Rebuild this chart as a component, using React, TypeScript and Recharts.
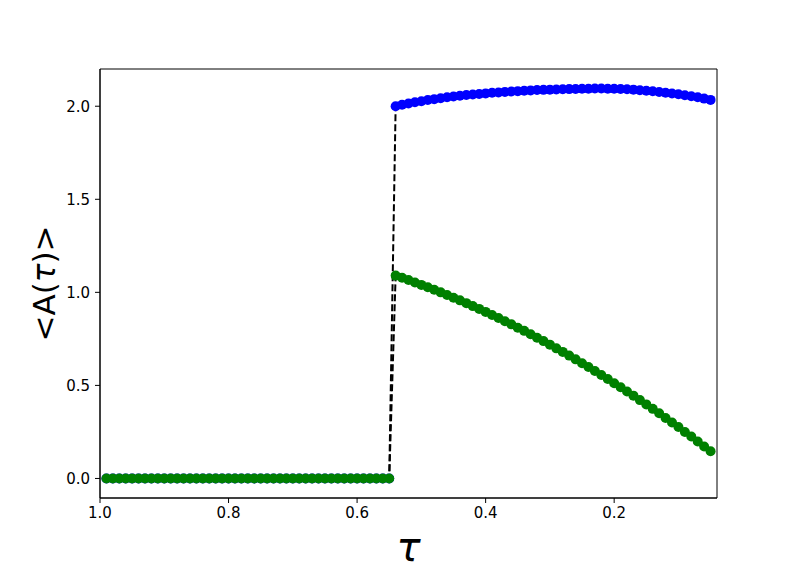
import { ComposedChart, Line, XAxis, YAxis, Label, ReferenceArea } from 'recharts'

// tau grid, plotted right-to-left (decreasing tau)
const tauFlat = [
  0.99, 0.98, 0.97, 0.96, 0.95, 0.94, 0.93, 0.92, 0.91, 0.9,
  0.89, 0.88, 0.87, 0.86, 0.85, 0.84, 0.83, 0.82, 0.81, 0.8,
  0.79, 0.78, 0.77, 0.76, 0.75, 0.74, 0.73, 0.72, 0.71, 0.7,
  0.69, 0.68, 0.67, 0.66, 0.65, 0.64, 0.63, 0.62, 0.61, 0.6,
  0.59, 0.58, 0.57, 0.56, 0.55,
]
const flatValues = [
  0, 0, 0, 0, 0, 0, 0, 0, 0, 0,
  0, 0, 0, 0, 0, 0, 0, 0, 0, 0,
  0, 0, 0, 0, 0, 0, 0, 0, 0, 0,
  0, 0, 0, 0, 0, 0, 0, 0, 0, 0,
  0, 0, 0, 0, 0,
]
const tauBranch = [
  0.54, 0.53, 0.52, 0.51, 0.5, 0.49, 0.48, 0.47, 0.46, 0.45,
  0.44, 0.43, 0.42, 0.41, 0.4, 0.39, 0.38, 0.37, 0.36, 0.35,
  0.34, 0.33, 0.32, 0.31, 0.3, 0.29, 0.28, 0.27, 0.26, 0.25,
  0.24, 0.23, 0.22, 0.21, 0.2, 0.19, 0.18, 0.17, 0.16, 0.15,
  0.14, 0.13, 0.12, 0.11, 0.1, 0.09, 0.08, 0.07, 0.06, 0.05,
]
const upperBranch = [
  2.0, 2.008, 2.015, 2.021, 2.027, 2.033, 2.038, 2.043, 2.048, 2.052,
  2.056, 2.06, 2.063, 2.066, 2.069, 2.072, 2.074, 2.077, 2.079, 2.081,
  2.083, 2.085, 2.087, 2.088, 2.089, 2.09, 2.091, 2.092, 2.093, 2.094,
  2.094, 2.095, 2.095, 2.094, 2.094, 2.093, 2.091, 2.089, 2.086, 2.083,
  2.08, 2.076, 2.072, 2.068, 2.064, 2.059, 2.054, 2.048, 2.041, 2.034,
]
const lowerBranch = [
  1.09, 1.078, 1.066, 1.053, 1.04, 1.027, 1.014, 1.0, 0.986, 0.971,
  0.957, 0.942, 0.926, 0.911, 0.895, 0.878, 0.862, 0.845, 0.828, 0.81,
  0.793, 0.775, 0.756, 0.738, 0.719, 0.699, 0.68, 0.66, 0.64, 0.619,
  0.599, 0.577, 0.556, 0.534, 0.512, 0.49, 0.467, 0.445, 0.421, 0.398,
  0.374, 0.35, 0.325, 0.301, 0.276, 0.25, 0.225, 0.199, 0.172, 0.146,
]
const xTicks = [1.0, 0.8, 0.6, 0.4, 0.2]
const yTicks = [0.0, 0.5, 1.0, 1.5, 2.0]
const xDomain = [0.04, 1.0]
const yDomain = [-0.105, 2.2]

const data = [
  ...tauFlat.map((tau, i) => ({ tau, upper: flatValues[i], lower: flatValues[i] })),
  ...tauBranch.map((tau, i) => ({ tau, upper: upperBranch[i], lower: lowerBranch[i] })),
]

const font = 'DejaVu Sans'
const tickStyle = { fontSize: 15, fill: '#000', fontFamily: font }

export default function App() {
  return (
    <div style={{ position: 'absolute', left: 0, top: 0, background: '#fff' }}>
      <ComposedChart
        width={797}
        height={570}
        data={data}
        margin={{ top: 69, right: 80, bottom: 0, left: 40 }}
      >
        <XAxis
          dataKey="tau"
          type="number"
          domain={xDomain}
          reversed
          allowDataOverflow
          ticks={xTicks}
          tickFormatter={(v: number) => v.toFixed(1)}
          tick={tickStyle}
          tickSize={5}
          tickMargin={4}
          height={72}
          stroke="#000"
          interval={0}
        >
          <Label
            content={() => (
              <text
                x={408.5}
                y={561}
                textAnchor="middle"
                fontSize={40}
                fontStyle="italic"
                fontFamily={font}
                fill="#000"
              >
                τ
              </text>
            )}
          />
        </XAxis>
        <YAxis
          type="number"
          domain={yDomain}
          allowDataOverflow
          ticks={yTicks}
          tickFormatter={(v: number) => v.toFixed(1)}
          tick={tickStyle}
          tickSize={5}
          tickMargin={5}
          width={60}
          stroke="#000"
          interval={0}
        >
          <Label
            content={() => (
              <text
                x={44}
                y={283.5}
                textAnchor="middle"
                dominantBaseline="central"
                fontSize={31}
                fontFamily={font}
                fill="#000"
                transform="rotate(-90, 44, 283.5)"
              >
                {'<A('}
                <tspan fontStyle="italic">τ</tspan>
                {')>'}
              </text>
            )}
          />
        </YAxis>
        <ReferenceArea
          x1={xDomain[1]}
          x2={xDomain[0]}
          y1={yDomain[0]}
          y2={yDomain[1]}
          fill="none"
          stroke="#000"
          strokeWidth={1}
          ifOverflow="visible"
        />
        <Line
          dataKey="upper"
          stroke="#000"
          strokeWidth={2}
          strokeDasharray="7 3"
          dot={false}
          isAnimationActive={false}
        />
        <Line
          dataKey="lower"
          stroke="#000"
          strokeWidth={2}
          strokeDasharray="7 3"
          dot={false}
          isAnimationActive={false}
        />
        <Line
          dataKey="upper"
          stroke="none"
          dot={{ r: 5, fill: '#0000ff', stroke: 'none' }}
          isAnimationActive={false}
        />
        <Line
          dataKey="lower"
          stroke="none"
          dot={{ r: 5, fill: '#008000', stroke: 'none' }}
          isAnimationActive={false}
        />
      </ComposedChart>
    </div>
  )
}
